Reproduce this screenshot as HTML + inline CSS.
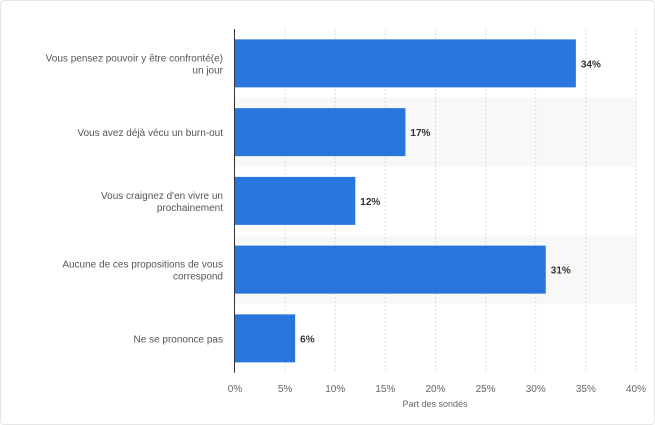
<!DOCTYPE html>
<html><head><meta charset="utf-8"><style>
body{margin:0;background:#fff;font-family:"Liberation Sans","DejaVu Sans",sans-serif;}
#wrap{position:relative;width:655px;height:425px;border:1px solid #e6e6e6;box-sizing:border-box;border-radius:4px;overflow:hidden}
</style></head><body>
<div id="wrap">
<svg id="chart" width="655" height="425"></svg>
</div>
<script>
const categories=["Vous pensez pouvoir y être confronté(e)|un jour","Vous avez déjà vécu un burn-out","Vous craignez d'en vivre un|prochainement","Aucune de ces propositions de vous|correspond","Ne se prononce pas"];
const values=[34,17,12,31,6];
const valueLabels=["34%","17%","12%","31%","6%"];
const ticks=[0,5,10,15,20,25,30,35,40];
const tickLabels=["0%","5%","10%","15%","20%","25%","30%","35%","40%"];
const NS="http://www.w3.org/2000/svg";
const svg=document.getElementById('chart');
const x0=234,x1=635,plotTop=28,rowH=68.75,barH=48;
const xs=v=>x0+(x1-x0)*v/40;
function mk(t,a,p){const e=document.createElementNS(NS,t);for(const k in a)e.setAttribute(k,a[k]);(p||svg).appendChild(e);return e;}
categories.forEach((c,i)=>{if(i%2==1){const b=mk('rect',{x:x0,y:plotTop+i*rowH,width:x1-x0,height:rowH,fill:'#f8f8f8'});

}});
ticks.forEach((t,i)=>{if(i>0){const g=mk('line',{x1:xs(t),x2:xs(t),y1:plotTop,y2:plotTop+5*rowH,stroke:'#dcdcdc','stroke-dasharray':'2,2'});

}
const tl=mk('text',{x:xs(t),y:391,'text-anchor':'middle','font-size':10,fill:'#666'});tl.textContent=tickLabels[i];

});
categories.forEach((c,i)=>{const cy=plotTop+i*rowH+rowH/2;
const r=mk('rect',{x:x0,y:cy-barH/2,width:xs(values[i])-x0,height:barH,fill:'#2876dd'});


const v=mk('text',{x:xs(values[i])+5,y:cy+4,'font-size':10,'font-weight':'bold',fill:'#333'});v.textContent=valueLabels[i];


const lines=c.split('|');
lines.forEach((l,j)=>{const t=mk('text',{x:222,y:cy+4+(j-(lines.length-1)/2)*12,'text-anchor':'end','font-size':10,fill:'#555'});t.textContent=l;

});});
const ax=mk('line',{x1:x0-0.5,x2:x0-0.5,y1:plotTop,y2:plotTop+5*rowH,stroke:'#333','stroke-width':1});


const at=mk('text',{x:434,y:406,'text-anchor':'middle','font-size':9,fill:'#666'});at.textContent='Part des sondés';


</script>
</body></html>
